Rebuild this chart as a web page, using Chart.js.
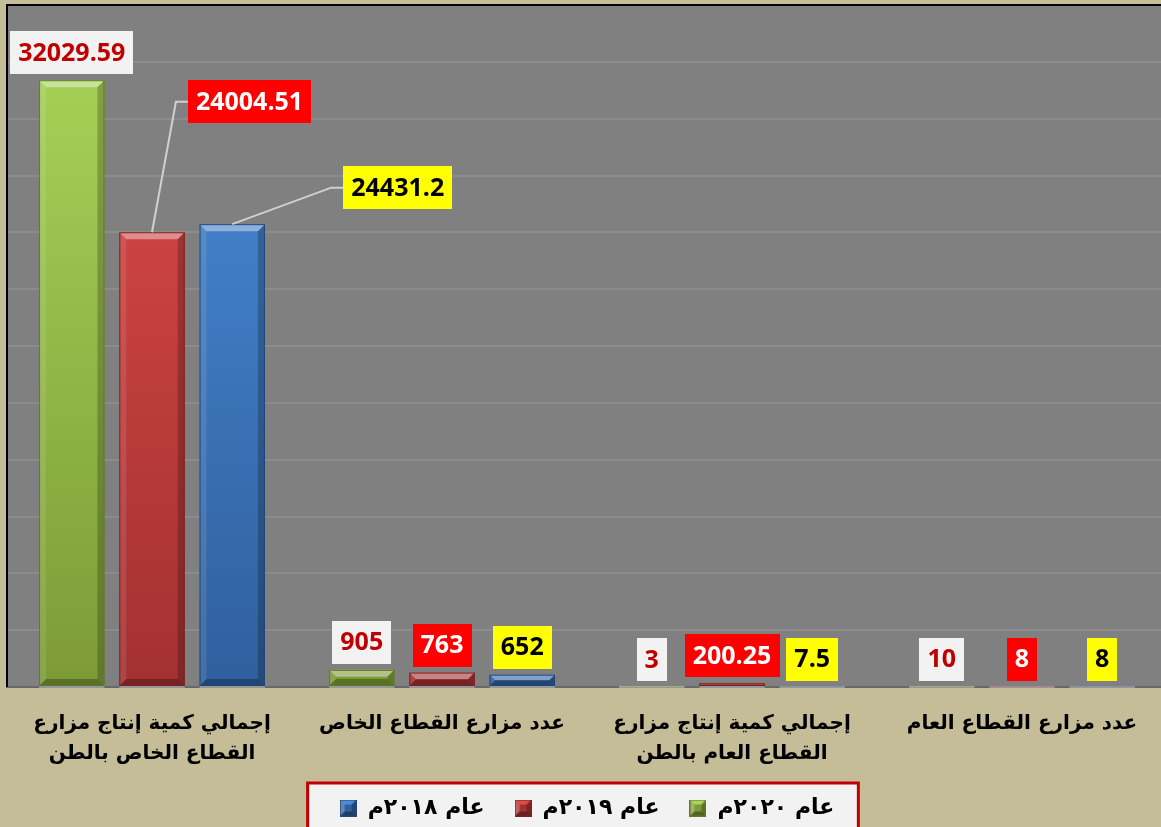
<!DOCTYPE html>
<html><head><meta charset="utf-8">
<script src="https://cdn.jsdelivr.net/npm/chart.js@4.4.0/dist/chart.umd.min.js"></script>
<style>
html,body{margin:0;padding:0;overflow:hidden;background:#c4bd97;}
#wrap{width:1168px;height:829px;}
</style>
</head><body>
<div id="wrap"><canvas id="c" width="1168" height="829"></canvas></div>
<script>
// ---------------- data ----------------
const categories = [
  ["إجمالي كمية إنتاج مزارع", "القطاع الخاص بالطن"],
  "عدد مزارع القطاع الخاص",
  ["إجمالي كمية إنتاج مزارع", "القطاع العام بالطن"],
  "عدد مزارع القطاع العام"
];
const seriesNames = ["عام ٢٠٢٠م", "عام ٢٠١٩م", "عام ٢٠١٨م"];
const values2020 = [32029.59, 905, 3, 10];
const values2019 = [24004.51, 763, 200.25, 8];
const values2018 = [24431.2, 652, 7.5, 8];
const yMin = 0, yMax = 36000, yStep = 3000;

// ---------------- styles ----------------
const barColors = [
  {top: "#aad55a", bottom: "#7c9b36", dark: "#5f7a25"},
  {top: "#de4b49", bottom: "#a33131", dark: "#7d2020"},
  {top: "#4b8dda", bottom: "#2f5f9d", dark: "#20467a"}
];
const labelStyles = [
  {bg: "#f2f2f2", fg: "#c00000"},
  {bg: "#ff0000", fg: "#ffffff"},
  {bg: "#ffff00", fg: "#000000"}
];
// manual label displacements (dataset -> index -> offset of box centre from bar top)
const labelOffsets = {1: {0: {dx: 97.5, dy: -130.5}}, 2: {0: {dx: 165.5, dy: -36.5}}};

function gradientFor(c) {
  return (ctx) => {
    const chart = ctx.chart, a = chart.chartArea;
    if (!a) return c.bottom;
    const g = chart.ctx.createLinearGradient(0, a.top, 0, a.bottom);
    g.addColorStop(0, c.top);
    g.addColorStop(1, c.bottom);
    return g;
  };
}

function makeSwatch(c) {
  const s = 17, b = 5;
  const cv = document.createElement('canvas');
  cv.width = s; cv.height = s;
  const x = cv.getContext('2d');
  x.fillStyle = c.bottom; x.fillRect(0, 0, s, s);
  const poly = (pts, col) => { x.beginPath(); x.moveTo(pts[0][0], pts[0][1]); for (let i = 1; i < pts.length; i++) x.lineTo(pts[i][0], pts[i][1]); x.closePath(); x.fillStyle = col; x.fill(); };
  poly([[0,0],[s,0],[s-b,b],[b,b]], c.top);
  poly([[0,0],[b,b],[b,s-b],[0,s]], 'rgba(255,255,255,0.25)');
  poly([[s,0],[s,s],[s-b,s-b],[s-b,b]], 'rgba(0,0,0,0.25)');
  poly([[0,s],[b,s-b],[s-b,s-b],[s,s]], 'rgba(0,0,0,0.35)');
  x.strokeStyle = c.dark; x.lineWidth = 1; x.strokeRect(0.5, 0.5, s-1, s-1);
  return cv;
}
const swatches = barColors.map(makeSwatch);

// ---------------- plugins ----------------
const backgroundPlugin = {
  id: 'bgPlot',
  beforeDraw(chart) {
    const ctx = chart.ctx, a = chart.chartArea;
    ctx.save();
    ctx.fillStyle = '#c4bd97';
    ctx.fillRect(0, 0, chart.width, chart.height);
    ctx.fillStyle = '#808080';
    ctx.fillRect(a.left, a.top, a.right - a.left, a.bottom - a.top);
    // legend frame
    const lg = chart.legend;
    if (lg && lg.legendHitBoxes && lg.legendHitBoxes.length) {
      const hb = lg.legendHitBoxes;
      const l = Math.min(...hb.map(h => h.left)), r = Math.max(...hb.map(h => h.left + h.width));
      const t = Math.min(...hb.map(h => h.top));
      ctx.fillStyle = '#f2f2f2';
      ctx.strokeStyle = '#c00000';
      ctx.lineWidth = 3;
      ctx.fillRect(l - 32, t - 14, (r - l) + 56, 80);
      ctx.strokeRect(l - 32, t - 14, (r - l) + 56, 80);
    }
    ctx.restore();
  },
  afterDatasetsDraw(chart) {
    const ctx = chart.ctx, a = chart.chartArea;
    ctx.save();
    ctx.fillStyle = '#000';
    ctx.fillRect(a.left - 1, a.top - 1, a.right - a.left + 2, 2);
    ctx.fillRect(a.left - 1, a.top - 1, 2, a.bottom - a.top + 1);
    ctx.restore();
  }
};

const bevelPlugin = {
  id: 'bevel',
  afterDatasetsDraw(chart) {
    const ctx = chart.ctx;
    chart.data.datasets.forEach((ds, i) => {
      const meta = chart.getDatasetMeta(i);
      meta.data.forEach(el => {
        const p = el.getProps(['x', 'y', 'base', 'width'], true);
        const l = p.x - p.width / 2, r = p.x + p.width / 2;
        const t = Math.min(p.y, p.base), b = Math.max(p.y, p.base);
        const h = b - t;
        ctx.save();
        ctx.fillStyle = 'rgba(190,190,190,0.55)';
        ctx.fillRect(l, p.base, p.width, 2);
        if (h >= 1) {
          const bv = Math.min(7, h / 2);
          const poly = (pts, col) => { ctx.beginPath(); ctx.moveTo(pts[0][0], pts[0][1]); for (let k = 1; k < pts.length; k++) ctx.lineTo(pts[k][0], pts[k][1]); ctx.closePath(); ctx.fillStyle = col; ctx.fill(); };
          poly([[l,t],[r,t],[r-bv,t+bv],[l+bv,t+bv]], 'rgba(255,255,255,0.40)');
          poly([[l,t],[l+bv,t+bv],[l+bv,b-bv],[l,b]], 'rgba(255,255,255,0.10)');
          poly([[r,t],[r,b],[r-bv,b-bv],[r-bv,t+bv]], 'rgba(0,0,0,0.22)');
          poly([[l,b],[l+bv,b-bv],[r-bv,b-bv],[r,b]], 'rgba(0,0,0,0.28)');
          ctx.strokeStyle = barColors[i].dark;
          ctx.lineWidth = 1;
          ctx.strokeRect(l + 0.5, t + 0.5, p.width - 1, h - 1);
        }
        ctx.restore();
      });
    });
  }
};

const boxLabelPlugin = {
  id: 'boxLabels',
  afterDatasetsDraw(chart) {
    const ctx = chart.ctx;
    ctx.save();
    ctx.font = 'bold 25px "Open Sans"';
    ctx.textAlign = 'center';
    ctx.textBaseline = 'middle';
    const boxH = 43, padX = 8, gap = 6;
    chart.data.datasets.forEach((ds, i) => {
      const meta = chart.getDatasetMeta(i);
      meta.data.forEach((el, j) => {
        const txt = String(ds.data[j]);
        const w = ctx.measureText(txt).width + padX * 2;
        let cx = el.x, cy = el.y - gap - boxH / 2;
        const off = labelOffsets[i] && labelOffsets[i][j];
        if (off) {
          cx = el.x + off.dx; cy = el.y + off.dy;
          ctx.strokeStyle = '#d0d0d0';
          ctx.lineWidth = 2;
          ctx.beginPath();
          ctx.moveTo(el.x, el.y);
          ctx.lineTo(cx - w / 2 - 12, cy);
          ctx.lineTo(cx - w / 2, cy);
          ctx.stroke();
        }
        ctx.fillStyle = labelStyles[i].bg;
        ctx.fillRect(Math.round(cx - w / 2), Math.round(cy - boxH / 2), Math.round(w), boxH);
        ctx.fillStyle = labelStyles[i].fg;
        ctx.fillText(txt, cx, cy + 1);
      });
    });
    ctx.restore();
  }
};

// ---------------- chart ----------------
const seriesValues = [values2020, values2019, values2018];
new Chart(document.getElementById('c'), {
  type: 'bar',
  data: {
    labels: categories,
    datasets: seriesValues.map((v, i) => ({
      label: seriesNames[i],
      data: v,
      backgroundColor: gradientFor(barColors[i]),
      borderWidth: 0,
      categoryPercentage: 0.83,
      barPercentage: 0.815
    }))
  },
  options: {
    responsive: false,
    animation: false,
    devicePixelRatio: 1,
    layout: {padding: {left: 7, top: 5, right: 1, bottom: 0}},
    scales: {
      x: {
        grid: {display: false, drawTicks: false},
        border: {display: true, color: '#686868', width: 2},
        ticks: {
          color: '#000',
          font: {family: 'DejaVu Sans', size: 20, weight: 'bold', lineHeight: 1.5},
          padding: 22, maxRotation: 0, minRotation: 0, autoSkip: false
        },
        afterFit(s) { s.height = 80; }
      },
      y: {
        min: yMin, max: yMax,
        ticks: {display: false, stepSize: yStep},
        grid: {color: '#8c8c8c', lineWidth: 2, drawTicks: false},
        border: {display: false}
      }
    },
    plugins: {
      tooltip: {enabled: false},
      legend: {
        position: 'bottom',
        reverse: true,
        textDirection: 'rtl',
        labels: {
          usePointStyle: true,
          boxWidth: 17, boxHeight: 17,
          padding: 30,
          color: '#000',
          font: {family: 'DejaVu Sans', size: 22, weight: 'bold'},
          generateLabels(chart) {
            const items = Chart.defaults.plugins.legend.labels.generateLabels(chart);
            items.forEach(it => { it.pointStyle = swatches[it.datasetIndex]; });
            return items;
          }
        }
      }
    }
  },
  plugins: [backgroundPlugin, bevelPlugin, boxLabelPlugin]
});
</script>
</body></html>
